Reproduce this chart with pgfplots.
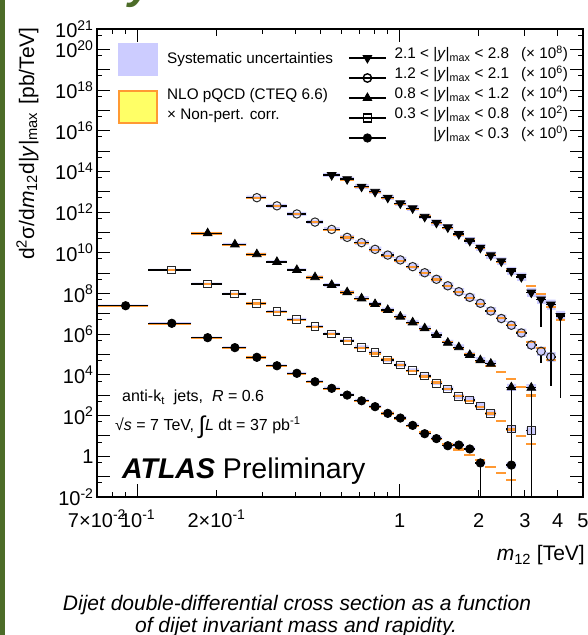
\documentclass[border=0pt]{standalone}
\usepackage{pgfplots}
\pgfplotsset{compat=1.18}
\usepackage{pgfplotstable}
\usepackage{fontspec}
\setmainfont{Liberation Sans}

\definecolor{systblue}{RGB}{204,204,255}
\definecolor{nloorange}{RGB}{255,153,51}
\definecolor{nloyellow}{RGB}{255,255,102}
\definecolor{framegreen}{RGB}{76,108,40}

\newcommand\fs[1]{\fontsize{#1bp}{#1bp}\selectfont}

% Columns: lo, hi = m12 bin edges [TeV]; y = measured cross section, already
% multiplied by the factor quoted in the legend; ed = relative downward error;
% nlo = NLO pQCD x non-perturbative correction; sl, sh = relative systematic
% band below / above; d = 1 for a measured bin, 0 for a prediction-only bin.
% The last row of each table only closes the band of the last bin.

% |y|max < 0.3  (x 10^0)
\pgfplotstableread{
lo   hi   y       ed     nlo     sl   sh   d
0.07 0.11 2.51e7  0      2.42e7  0.10 0.12 1
0.11 0.16 3.43e6  0      3.30e6  0.11 0.13 1
0.16 0.21 6.76e5  0      6.50e5  0.11 0.14 1
0.21 0.26 2.19e5  0      2.10e5  0.12 0.15 1
0.26 0.31 7.33e4  0      7.10e4  0.13 0.16 1
0.31 0.37 2.82e4  0      2.72e4  0.13 0.17 1
0.37 0.44 1.20e4  0      1.15e4  0.14 0.18 1
0.44 0.51 4.63e3  0      4.50e3  0.15 0.19 1
0.51 0.59 2.19e3  0      2.10e3  0.16 0.20 1
0.59 0.67 1.02e3  0      9.90e2  0.16 0.21 1
0.67 0.76 537     0      520     0.17 0.22 1
0.76 0.85 275     0      262     0.18 0.23 1
0.85 0.95 129     0      128     0.19 0.24 1
0.95 1.06 75.9    0      70.0    0.19 0.25 1
1.06 1.18 33.1    0      31.6    0.20 0.26 1
1.18 1.31 12.9    0      15.5    0.21 0.27 1
1.31 1.45 7.41    0      7.40    0.22 0.28 1
1.45 1.60 3.31    0      3.80    0.22 0.29 1
1.60 1.76 3.59    0      2.14    0.23 0.30 1
1.76 1.94 2.29    0      1.20    0.24 0.31 1
1.94 2.12 0.47    0.9999 0.63    0.25 0.32 1
2.12 2.33 0.309   0      0.309   0    0    0
2.33 2.55 0.146   0      0.146   0    0    0
2.55 2.78 0.37    0.9999 0.0684  0.28 0.36 1
2.78 3.04 0.37    0      nan     0.28 0.36 0
}\tabA

% 0.3 < |y|max < 0.8  (x 10^2)
\pgfplotstableread{
lo   hi   y       ed     nlo     sl   sh   d
0.11 0.16 1.43e9  0      1.38e9  0.12 0.15 1
0.16 0.21 2.93e8  0      2.85e8  0.13 0.16 1
0.21 0.26 9.55e7  0      9.30e7  0.13 0.17 1
0.26 0.31 3.31e7  0      3.20e7  0.14 0.18 1
0.31 0.37 1.27e7  0      1.23e7  0.15 0.19 1
0.37 0.44 5.37e6  0      5.20e6  0.16 0.20 1
0.44 0.51 2.34e6  0      2.25e6  0.16 0.21 1
0.51 0.59 1.02e6  0      1.00e6  0.17 0.22 1
0.59 0.67 4.68e5  0      4.55e5  0.18 0.23 1
0.67 0.76 2.29e5  0      2.15e5  0.19 0.24 1
0.76 0.85 1.23e5  0      1.12e5  0.20 0.26 1
0.85 0.95 5.37e4  0      5.75e4  0.20 0.27 1
0.95 1.06 3.09e4  0      3.00e4  0.21 0.28 1
1.06 1.18 1.62e4  0      1.58e4  0.22 0.30 1
1.18 1.31 8.91e3  0      8.30e3  0.23 0.31 1
1.31 1.45 3.89e3  0      4.20e3  0.24 0.32 1
1.45 1.60 2.04e3  0      2.00e3  0.25 0.34 1
1.60 1.76 851     0      933     0.26 0.35 1
1.76 1.94 589     0      525     0.27 0.37 1
1.94 2.12 295     0      263     0.28 0.38 1
2.12 2.33 129     0      126     0.29 0.40 1
2.33 2.55 53.7    0      53.7    0    0    0
2.55 2.78 21.9    0.9999 20.9    0.31 0.43 1
2.78 3.04 10.0    0      10.0    0    0    0
3.04 3.31 18.2    0.9999 3.89    0.32 0.45 1
3.31 3.61 18.2    0      nan     0.32 0.45 0
}\tabB

% 0.8 < |y|max < 1.2  (x 10^4)
\pgfplotstableread{
lo   hi   y       ed     nlo     sl   sh   d
0.16 0.21 9.12e10 0      8.90e10 0.15 0.18 1
0.21 0.26 2.57e10 0      2.50e10 0.16 0.19 1
0.26 0.31 8.51e9  0      8.30e9  0.16 0.20 1
0.31 0.37 3.55e9  0      3.45e9  0.17 0.21 1
0.37 0.44 1.43e9  0      1.40e9  0.18 0.22 1
0.44 0.51 6.31e8  0      6.10e8  0.19 0.24 1
0.51 0.59 2.63e8  0      2.58e8  0.20 0.25 1
0.59 0.67 1.15e8  0      1.12e8  0.20 0.26 1
0.67 0.76 5.75e7  0      5.40e7  0.21 0.28 1
0.76 0.85 3.02e7  0      2.75e7  0.22 0.29 1
0.85 0.95 1.55e7  0      1.45e7  0.23 0.31 1
0.95 1.06 7.24e6  0      7.10e6  0.24 0.32 1
1.06 1.18 3.80e6  0      3.55e6  0.25 0.34 1
1.18 1.31 1.95e6  0      1.80e6  0.26 0.35 1
1.31 1.45 9.12e5  0      9.00e5  0.27 0.37 1
1.45 1.60 3.80e5  0      4.30e5  0.28 0.38 1
1.60 1.76 2.29e5  0      2.10e5  0.29 0.40 1
1.76 1.94 9.55e4  0      1.00e5  0.30 0.42 1
1.94 2.12 5.25e4  0      5.00e4  0.31 0.43 1
2.12 2.33 3.55e4  0      2.80e4  0.32 0.45 1
2.33 2.55 1.45e4  0      1.45e4  0    0    0
2.55 2.78 2.45e3  0.9999 6.03e3  0.34 0.48 1
2.78 3.04 2.51e3  0      2.51e3  0    0    0
3.04 3.31 2.34e3  0.9999 9.77e2  0.36 0.52 1
3.31 3.61 2.34e3  0      nan     0.36 0.52 0
}\tabC

% 1.2 < |y|max < 2.1  (x 10^6)
\pgfplotstableread{
lo   hi   y       ed     nlo     sl   sh   d
0.26 0.31 5.13e12 0      5.00e12 0.20 0.25 1
0.31 0.37 2.04e12 0      1.98e12 0.21 0.26 1
0.37 0.44 8.13e11 0      7.90e11 0.22 0.28 1
0.44 0.51 3.24e11 0      3.15e11 0.23 0.29 1
0.51 0.59 1.41e11 0      1.38e11 0.24 0.31 1
0.59 0.67 5.75e10 0      5.60e10 0.25 0.33 1
0.67 0.76 3.16e10 0      2.95e10 0.26 0.34 1
0.76 0.85 1.48e10 0      1.44e10 0.27 0.36 1
0.85 0.95 7.76e9  0      7.20e9  0.28 0.38 1
0.95 1.06 4.47e9  0      4.10e9  0.29 0.40 1
1.06 1.18 2.09e9  0      2.05e9  0.30 0.42 1
1.18 1.31 1.05e9  0      1.00e9  0.31 0.44 1
1.31 1.45 5.01e8  0      4.90e8  0.32 0.46 1
1.45 1.60 2.40e8  0      2.40e8  0.33 0.48 1
1.60 1.76 1.23e8  0      1.18e8  0.34 0.50 1
1.76 1.94 6.46e7  0      6.00e7  0.35 0.52 1
1.94 2.12 3.31e7  0      3.15e7  0.36 0.54 1
2.12 2.33 1.38e7  0      1.40e7  0.37 0.56 1
2.33 2.55 5.89e6  0      6.20e6  0.38 0.58 1
2.55 2.78 2.75e6  0      2.80e6  0.39 0.60 1
2.78 3.04 1.15e6  0      1.25e6  0.40 0.62 1
3.04 3.31 2.95e5  0.45   4.27e5  0.42 0.65 1
3.31 3.61 1.45e5  0.73   2.14e5  0.43 0.68 1
3.61 3.93 7.76e4  0      5.37e4  0.45 0.70 1
3.93 4.27 7.76e4  0      nan     0.45 0.70 0
}\tabD

% 2.1 < |y|max < 2.8  (x 10^8)
\pgfplotstableread{
lo   hi   y       ed     nlo     sl   sh   d
0.51 0.59 6.61e13 0      6.40e13 0.22 0.28 1
0.59 0.67 4.17e13 0      3.90e13 0.23 0.30 1
0.67 0.76 1.78e13 0      1.75e13 0.24 0.32 1
0.76 0.85 1.00e13 0      9.50e12 0.25 0.33 1
0.85 0.95 5.13e12 0      5.00e12 0.26 0.35 1
0.95 1.06 2.69e12 0      2.60e12 0.27 0.37 1
1.06 1.18 1.55e12 0      1.40e12 0.28 0.39 1
1.18 1.31 5.89e11 0      6.30e11 0.29 0.41 1
1.31 1.45 3.02e11 0      3.00e11 0.31 0.43 1
1.45 1.60 1.78e11 0      1.60e11 0.32 0.45 1
1.60 1.76 8.32e10 0      8.00e10 0.33 0.48 1
1.76 1.94 3.89e10 0      4.00e10 0.34 0.50 1
1.94 2.12 1.78e10 0      1.80e10 0.36 0.53 1
2.12 2.33 7.59e9  0      8.00e9  0.37 0.56 1
2.33 2.55 3.80e9  0      3.60e9  0.38 0.59 1
2.55 2.78 1.26e9  0      1.45e9  0.40 0.62 1
2.78 3.04 6.46e8  0      6.50e8  0.41 0.65 1
3.04 3.31 1.12e8  0      2.34e8  0.43 0.69 1
3.31 3.61 5.13e7  0.954  9.12e7  0.44 0.72 1
3.61 3.93 2.88e7  0.9999 2.09e7  0.46 0.76 1
3.93 4.27 7.76e6  0.9999 5.01e6  0.48 0.80 1
4.27 4.64 7.76e6  0      nan     0.48 0.80 0
}\tabE

\pgfplotsset{
  measured/.style={forget plot, restrict expr to domain={\thisrow{d}}{0.5:1.5}},
  error bars/blackbar/.style={error bar style={draw=black, line width=1.4bp}},
  mkA/.style={mark=*, mark size=4.2bp, mark options={draw=black, fill=black, line width=0.8bp}},
  mkB/.style={mark=square, mark size=3.9bp, mark options={draw=black!85, line width=1bp}},
  mkC/.style={mark=triangle*, mark size=5bp, mark options={draw=black, fill=black, line width=0.8bp}},
  mkD/.style={mark=o, mark size=4.2bp, mark options={draw=black!85, line width=1bp}},
  mkE/.style={mark=triangle*, mark size=5bp, mark options={rotate=180, draw=black, fill=black, line width=0.8bp}},
}

% systematic band: area under the upper step line, then the area under the
% lower step line is painted white again (series are drawn top to bottom)
\newcommand\systband[1]{%
  \addplot[const plot mark left, fill=systblue, draw=none, forget plot]
    table[x=lo, y expr={\thisrow{y}*(1+\thisrow{sh})}]{#1} \closedcycle;
  \addplot[const plot mark left, fill=white, draw=white, line width=0.8bp, forget plot]
    table[x=lo, y expr={\thisrow{y}*(1-\thisrow{sl})}]{#1} \closedcycle;
}

% theory: one orange segment across each bin
\newcommand\nloline[1]{%
  \addplot[draw=none, forget plot,
    error bars/.cd, x dir=both, x explicit, error mark=none,
    error bar style={draw=nloorange, line width=2.2bp}]
    table[x expr={(\thisrow{lo}+\thisrow{hi})/2}, y=nlo,
      x error plus expr={(\thisrow{hi}-\thisrow{lo})/2},
      x error minus expr={(\thisrow{hi}-\thisrow{lo})/2}]{#1};
}

% filled markers: bin-width bar and downward error through the marker
\newcommand\filledpts[2]{%
  \addplot[only marks, measured, #2,
    error bars/.cd, x dir=both, x explicit, y dir=minus, y explicit,
    error mark=none, blackbar]
    table[x expr={(\thisrow{lo}+\thisrow{hi})/2}, y=y,
      x error plus expr={(\thisrow{hi}-\thisrow{lo})/2},
      x error minus expr={(\thisrow{hi}-\thisrow{lo})/2},
      y error minus expr={\thisrow{y}*\thisrow{ed}}]{#1};
}

% hollow markers: bars stop at the marker outline
% (#2 = half marker width as an x factor, #3 = the same in y)
\newcommand\hollowpts[4]{%
  \addplot[draw=none, measured,
    error bars/.cd, x dir=minus, x explicit, error mark=none, blackbar]
    table[x expr={(\thisrow{lo}+\thisrow{hi})/2/#2}, y=y,
      x error minus expr={(\thisrow{lo}+\thisrow{hi})/2/#2-\thisrow{lo}}]{#1};
  \addplot[draw=none, measured,
    error bars/.cd, x dir=plus, x explicit, error mark=none, blackbar]
    table[x expr={(\thisrow{lo}+\thisrow{hi})/2*#2}, y=y,
      x error plus expr={\thisrow{hi}-(\thisrow{lo}+\thisrow{hi})/2*#2}]{#1};
  \addplot[draw=none, measured,
    error bars/.cd, y dir=minus, y explicit, error mark=none, blackbar]
    table[x expr={(\thisrow{lo}+\thisrow{hi})/2}, y expr={\thisrow{y}/#3},
      y error minus expr={max(\thisrow{y}/#3-\thisrow{y}*(1-\thisrow{ed}),0)}]{#1};
  \addplot[only marks, measured, #4]
    table[x expr={(\thisrow{lo}+\thisrow{hi})/2}, y=y]{#1};
}

\begin{document}
\begin{tikzpicture}
\useasboundingbox (0,0) rectangle (588bp,635bp);

% page frame and heading remnant
\fill[framegreen] (0,0) rectangle (4.5bp,635bp);
\node[anchor=base, inner sep=0pt, text=framegreen, font=\fs{44}\bfseries\itshape] at (141bp,636bp) {y};

\begin{axis}[
  scale only axis, width=486bp, height=468bp,
  at={(97bp,138bp)}, anchor=south west,
  xmode=log, ymode=log, log origin y=infty,
  xmin=0.07, xmax=5, ymin=1e-2, ymax=1e21,
  axis on top,
  axis line style={line width=1.2bp},
  tick align=inside,
  major tick length=13bp, minor tick length=5.5bp,
  every tick/.style={black, line width=1bp},
  tick label style={font=\fs{20}},
  xticklabel style={anchor=base, yshift=-30bp},
  xtick={0.1,1},
  xticklabels={10\textsuperscript{-1},1},
  extra x ticks={0.07,0.2,2,3,4,5},
  extra x tick labels={7×10\textsuperscript{-2},2×10\textsuperscript{-1},2,3,4,5},
  extra x tick style={major tick length=7bp},
  minor xtick={0.08,0.09,0.3,0.4,0.5,0.6,0.7,0.8,0.9},
  ytick={1e-2,1e-1,1,1e1,1e2,1e3,1e4,1e5,1e6,1e7,1e8,1e9,1e10,1e11,1e12,1e13,1e14,1e15,1e16,1e17,1e18,1e19,1e20,1e21},
  yticklabels={10\textsuperscript{-2},,1,,10\textsuperscript{2},,10\textsuperscript{4},,10\textsuperscript{6},,10\textsuperscript{8},,10\textsuperscript{10},,10\textsuperscript{12},,10\textsuperscript{14},,10\textsuperscript{16},,10\textsuperscript{18},,10\textsuperscript{20},10\textsuperscript{21}},
  minor ytick={5e-2,5e-1,5,5e1,5e2,5e3,5e4,5e5,5e6,5e7,5e8,5e9,5e10,5e11,5e12,5e13,5e14,5e15,5e16,5e17,5e18,5e19,5e20},
  legend style={draw=none, fill=none, at={(axis description cs:0.9691,0.9594)}, anchor=north east,
    inner sep=0pt, outer sep=0pt, row sep=0pt, column sep=8bp, font=\fs{15.3},
    nodes={inner sep=0pt, text height=11bp, text depth=9bp}},
  legend cell align=right,
  legend image code/.code={\draw[mark repeat=2, mark phase=2, #1] plot coordinates {(0bp,0bp) (18.5bp,0bp) (37bp,0bp)};},
]

\addlegendimage{black, line width=1.4bp, mkE}
\addlegendentry{2.1 < |\textit{y}|\textsubscript{max} < 2.8\hspace{12bp}(× 10\textsuperscript{8})}
\addlegendimage{black, line width=1.4bp, mkD, mark options={fill=white}}
\addlegendentry{1.2 < |\textit{y}|\textsubscript{max} < 2.1\hspace{12bp}(× 10\textsuperscript{6})}
\addlegendimage{black, line width=1.4bp, mkC}
\addlegendentry{0.8 < |\textit{y}|\textsubscript{max} < 1.2\hspace{12bp}(× 10\textsuperscript{4})}
\addlegendimage{black, line width=1.4bp, mkB, mark options={fill=white}}
\addlegendentry{0.3 < |\textit{y}|\textsubscript{max} < 0.8\hspace{12bp}(× 10\textsuperscript{2})}
\addlegendimage{black, line width=1.4bp, mkA}
\addlegendentry{|\textit{y}|\textsubscript{max} < 0.3\hspace{12bp}(× 10\textsuperscript{0})}

\systband{\tabE}
\systband{\tabD}
\systband{\tabC}
\systband{\tabB}
\systband{\tabA}

\nloline{\tabA}
\nloline{\tabB}
\nloline{\tabC}
\nloline{\tabD}
\nloline{\tabE}

\hollowpts{\tabB}{1.035}{1.55}{mkB}
\hollowpts{\tabD}{1.038}{1.6}{mkD}
\filledpts{\tabA}{mkA}
\filledpts{\tabC}{mkC}
\filledpts{\tabE}{mkE}
\end{axis}

% key for the bands
\fill[systblue] (118bp,559bp) rectangle (158bp,592bp);
\node[anchor=base west, inner sep=0pt, font=\fs{15.3}] at (167bp,571bp) {Systematic uncertainties};
\fill[nloyellow] (118bp,511bp) rectangle (158bp,545bp);
\draw[nloorange, line width=2bp] (119bp,512bp) rectangle (157bp,544bp);
\node[anchor=base west, inner sep=0pt, font=\fs{15.3}] at (167bp,535bp) {NLO pQCD (CTEQ 6.6)};
\node[anchor=base west, inner sep=0pt, font=\fs{15.3}] at (167bp,515bp) {× Non-pert. corr.};

% axis titles
\node[rotate=90, anchor=base east, inner sep=0pt, font=\fs{21}] at (34bp,608bp)
  {d\textsuperscript{2}σ/d\textit{m}\textsubscript{12}d|\textit{y}|\textsubscript{max}\hspace{8bp}[pb/TeV]};
\node[anchor=base east, inner sep=0pt, font=\fs{21}] at (585bp,74bp) {\textit{m}\textsubscript{12} [TeV]};

% labels inside the frame
\node[anchor=base west, inner sep=0pt, font=\fs{16}] at (122bp,233bp)
  {anti-k\textsubscript{t}\ \ jets,\ \ \textit{R} = 0.6};
\node[anchor=base west, inner sep=0pt, font=\fs{16}] at (115bp,204bp)
  {√\textit{s} = 7 TeV, \raisebox{-3bp}{\fs{24}∫}\textit{L} dt = 37 pb\textsuperscript{-1}};
\node[anchor=base west, inner sep=0pt, font=\fs{28.5}] at (122bp,156bp)
  {\textbf{\textit{ATLAS}} Preliminary};

% caption
\node[anchor=base, inner sep=0pt, font=\fs{21}\itshape] at (297bp,25bp)
  {Dijet double-differential cross section as a function};
\node[anchor=base, inner sep=0pt, font=\fs{21}\itshape] at (296bp,3bp)
  {of dijet invariant mass and rapidity.};
\end{tikzpicture}
\end{document}
